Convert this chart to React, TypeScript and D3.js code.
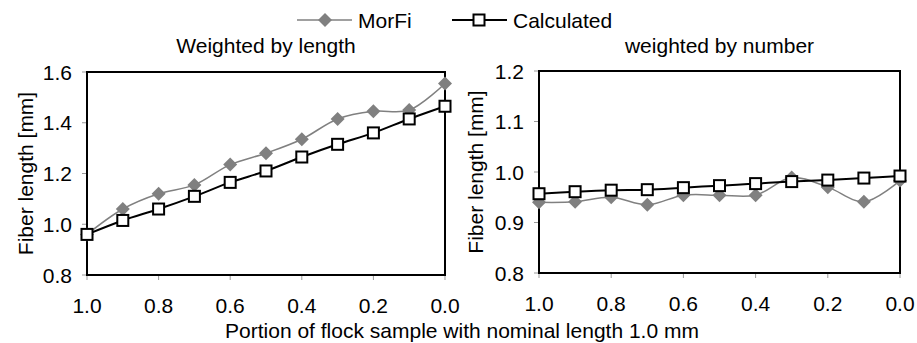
import React from 'react'
import * as d3 from 'd3'

const W = 917
const H = 343

const PORTION = [1.0, 0.9, 0.8, 0.7, 0.6, 0.5, 0.4, 0.3, 0.2, 0.1, 0.0]

const LEN_MORFI = [0.96, 1.06, 1.12, 1.155, 1.235, 1.28, 1.335, 1.415, 1.445, 1.45, 1.555]
const LEN_CALC = [0.96, 1.015, 1.06, 1.11, 1.165, 1.21, 1.265, 1.315, 1.36, 1.415, 1.465]

const NUM_MORFI = [0.94, 0.941, 0.95, 0.935, 0.954, 0.954, 0.954, 0.989, 0.97, 0.941, 0.983]
const NUM_CALC = [0.957, 0.961, 0.964, 0.965, 0.969, 0.973, 0.977, 0.981, 0.984, 0.988, 0.992]

const X_TICKS = [1.0, 0.8, 0.6, 0.4, 0.2, 0.0]
const LEN_Y_TICKS = [0.8, 1.0, 1.2, 1.4, 1.6]
const NUM_Y_TICKS = [0.8, 0.9, 1.0, 1.1, 1.2]

const FONT = 'Liberation Sans, Arial, sans-serif'
const FS = 21
const GRAY = '#808080'

type PanelProps = {
  left: number
  right: number
  top: number
  bottom: number
  yDomain: [number, number]
  yTicks: number[]
  title: string
  morfi: number[]
  calc: number[]
  yLabelX: number
}

function Panel(p: PanelProps) {
  const x = d3.scaleLinear().domain([1, 0]).range([p.left, p.right])
  const y = d3.scaleLinear().domain(p.yDomain).range([p.bottom, p.top])
  const fmt = d3.format('.1f')
  const line = d3.line<number>()
    .x((_, i) => x(PORTION[i]))
    .y(d => y(d))
    .curve(d3.curveCatmullRom.alpha(0.5))
  const diamond = 7
  const sq = 5.5
  return (
    <g>
      <text x={(p.left + p.right) / 2} y={53} textAnchor="middle" fontSize={FS}>{p.title}</text>
      <text
        transform={`translate(${p.yLabelX},${(p.top + p.bottom) / 2}) rotate(-90)`}
        textAnchor="middle" fontSize={FS}
      >Fiber length [mm]</text>
      {p.yTicks.map(t => (
        <g key={'y' + t}>
          <line x1={p.left - 5} x2={p.left} y1={y(t)} y2={y(t)} stroke="#999" strokeWidth={1} />
          <text x={p.left - 15} y={y(t) + 7.5} textAnchor="end" fontSize={FS}>{fmt(t)}</text>
        </g>
      ))}
      {X_TICKS.map(t => (
        <g key={'x' + t}>
          <line x1={x(t)} x2={x(t)} y1={p.bottom} y2={p.bottom + 5} stroke="#999" strokeWidth={1} />
          <text x={x(t)} y={p.bottom + 38} textAnchor="middle" fontSize={FS}>{t.toFixed(1)}</text>
        </g>
      ))}
      <rect x={p.left} y={p.top} width={p.right - p.left} height={p.bottom - p.top}
        fill="none" stroke="#000" strokeWidth={2} />
      <path d={line(p.morfi) || ''} fill="none" stroke={GRAY} strokeWidth={1.5} />
      {p.morfi.map((v, i) => (
        <path key={'m' + i}
          d={`M${x(PORTION[i])},${y(v) - diamond}l${diamond},${diamond}l${-diamond},${diamond}l${-diamond},${-diamond}z`}
          fill={GRAY} />
      ))}
      <path d={line(p.calc) || ''} fill="none" stroke="#000" strokeWidth={2} />
      {p.calc.map((v, i) => (
        <rect key={'c' + i} x={x(PORTION[i]) - sq} y={y(v) - sq} width={sq * 2} height={sq * 2}
          fill="#fff" stroke="#000" strokeWidth={2} />
      ))}
    </g>
  )
}

export default function App() {
  return (
    <svg width={W} height={H} style={{ position: 'absolute', left: 0, top: 0, background: '#fff' }}
      fontFamily={FONT}>
      <g>
        <line x1={297} x2={352} y1={20} y2={20} stroke={GRAY} strokeWidth={1.5} />
        <path d="M325,13l7,7l-7,7l-7,-7z" fill={GRAY} />
        <text x={358} y={28} fontSize={FS}>MorFi</text>
        <line x1={452} x2={507} y1={20} y2={20} stroke="#000" strokeWidth={2} />
        <rect x={473.5} y={14.5} width={11} height={11} fill="#fff" stroke="#000" strokeWidth={2} />
        <text x={513} y={28} fontSize={FS}>Calculated</text>
      </g>
      <Panel left={87} right={445} top={72} bottom={275} yDomain={[0.8, 1.6]} yTicks={LEN_Y_TICKS}
        title="Weighted by length" morfi={LEN_MORFI} calc={LEN_CALC} yLabelX={33} />
      <Panel left={539} right={900} top={71} bottom={273} yDomain={[0.8, 1.2]} yTicks={NUM_Y_TICKS}
        title="weighted by number" morfi={NUM_MORFI} calc={NUM_CALC} yLabelX={483} />
      <text x={462} y={338} textAnchor="middle" fontSize={FS}>Portion of flock sample with nominal length 1.0 mm</text>
    </svg>
  )
}
